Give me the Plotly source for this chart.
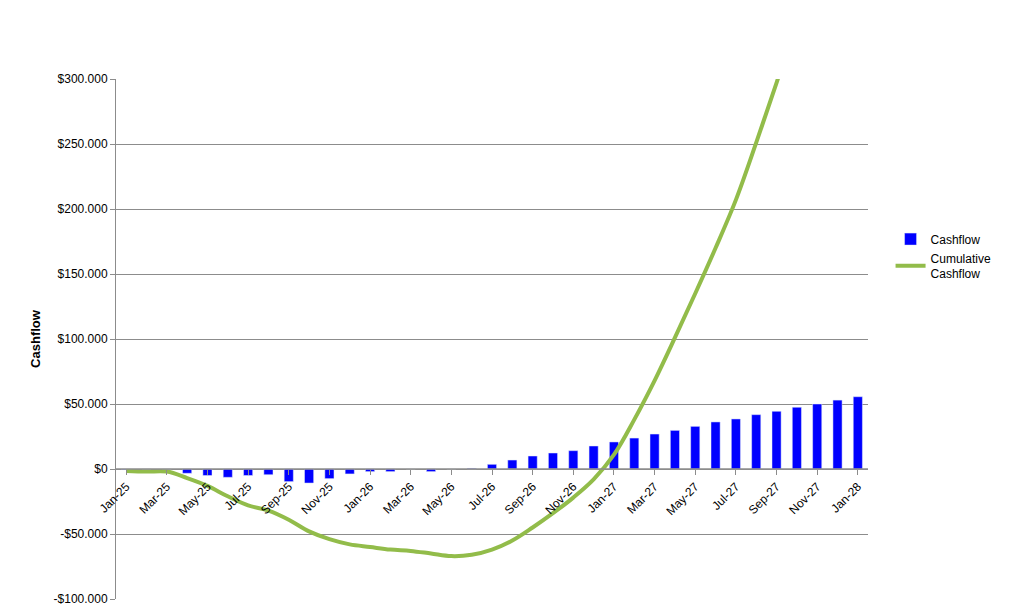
import plotly.graph_objects as go

months = ["Jan-25","Feb-25","Mar-25","Apr-25","May-25","Jun-25","Jul-25","Aug-25","Sep-25","Oct-25","Nov-25","Dec-25",
          "Jan-26","Feb-26","Mar-26","Apr-26","May-26","Jun-26","Jul-26","Aug-26","Sep-26","Oct-26","Nov-26","Dec-26",
          "Jan-27","Feb-27","Mar-27","Apr-27","May-27","Jun-27","Jul-27","Aug-27","Sep-27","Oct-27","Nov-27","Dec-27","Jan-28"]
cashflow = [-0.5,0,0,-3.3,-5,-6.4,-5,-4.4,-9.7,-10.8,-7.4,-3.8,
            -2,-2,0,-2,0,0.5,3.6,6.9,10,12.3,14.1,17.7,
            20.8,23.8,26.9,29.7,32.8,36.2,38.5,41.8,44.4,47.5,50,53,55.6]
cumulative = [-1.5,-2,-2,-7,-13,-21,-28,-32,-39,-48,-54,-58,
              -60,-62,-63,-65,-67,-66,-62,-55,-45,-34,-22,-8,
              11,38,68,101,135,170,207,251,297,345,395,448,504]
cashflow = [v*1000 for v in cashflow]
cumulative = [v*1000 for v in cumulative]
yticks = [-100000,-50000,0,50000,100000,150000,200000,250000,300000]
ytext = ["-$100.000","-$50.000","$0","$50.000","$100.000","$150.000","$200.000","$250.000","$300.000"]

fig = go.Figure()
fig.add_bar(x=months, y=cashflow, name="Cashflow", marker_color="#0000FF", width=0.45)
fig.add_scatter(x=months, y=cumulative, name="Cumulative<br>Cashflow", mode="lines",
                line=dict(color="#92BC4A", width=4, shape="spline"), cliponaxis=True)
fig.update_layout(
    width=1024, height=609, plot_bgcolor="white", paper_bgcolor="white",
    margin=dict(l=108, r=164, t=71, b=18, autoexpand=False),
    font=dict(family="Liberation Sans, Arial", size=12, color="black"),
    legend=dict(x=1.03, y=0.72, xanchor="left", yanchor="top", font=dict(size=12), tracegroupgap=30),
    showlegend=True, bargap=0.5,
)
fig.update_yaxes(range=[-100000,300000], tickvals=yticks, ticktext=ytext, showgrid=True, gridcolor="#8c8c8c",
                 showline=True, linecolor="#8c8c8c", zeroline=False, ticks="outside", tickcolor="#8c8c8c",
                 automargin=False, domain=[0,1],
                 title=dict(text="<b>Cashflow</b>", font=dict(size=13), standoff=10))
fig.update_xaxes(type="category", tickvals=months[::2], tickangle=-45, anchor="free", position=0.25,
                 ticks="outside", tickcolor="#8c8c8c", showline=False, showgrid=False, automargin=False,
                 range=[-0.5, 36.5])
fig.add_shape(type="line", xref="paper", yref="y", x0=0, x1=1, y0=0, y1=0, line=dict(color="#8c8c8c", width=1.5))
fig.write_html("out.html")
